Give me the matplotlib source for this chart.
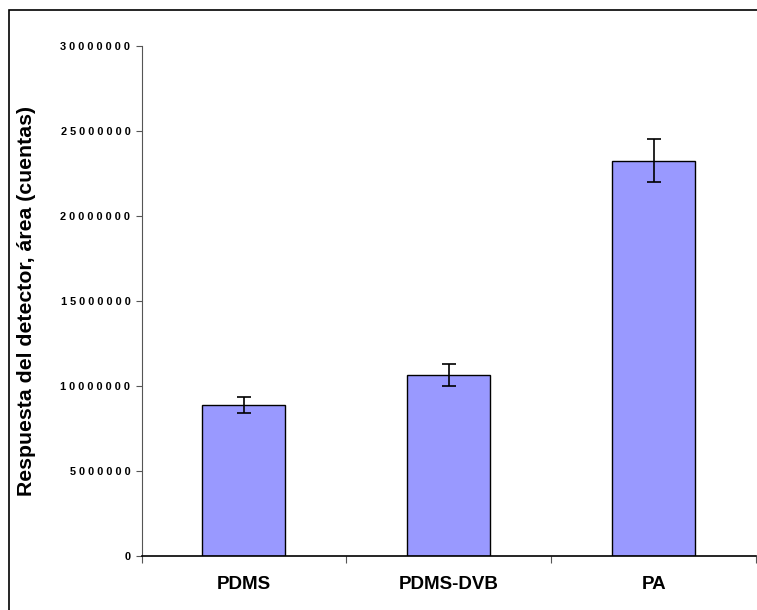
import matplotlib.pyplot as plt
from matplotlib.patches import Rectangle
from matplotlib.ticker import FixedLocator, FuncFormatter

plt.rcParams['font.family'] = ['Liberation Sans', 'DejaVu Sans']

# data
categories = ['PDMS', 'PDMS-DVB', 'PA']
values = [8900000, 10650000, 23250000]
errors = [470000, 650000, 1250000]
yticks = [0, 5000000, 10000000, 15000000, 20000000, 25000000, 30000000]

W, H = 757, 610
fig = plt.figure(figsize=(W / 100, H / 100), dpi=100)

# outer frame (only left and top visible in the original)
fig.patches.append(Rectangle((8.5 / W, -1.0), 3.0, 1.0 + (H - 9.5) / H,
                             transform=fig.transFigure, fill=False,
                             edgecolor='black', linewidth=1.2))

ax = fig.add_axes([141.5 / W, (H - 556.2) / H, (756 - 141.5) / W, (556.2 - 45.9) / H])

x = range(len(categories))
ax.bar(x, values, width=0.405, color='#9999FF', edgecolor='black', linewidth=1.0,
       yerr=errors, capsize=5,
       error_kw=dict(ecolor='black', elinewidth=1.2, capthick=1.2))

ax.set_xlim(-0.5, 2.5)
ax.set_ylim(0, 30000000)

for s in ['top', 'right']:
    ax.spines[s].set_visible(False)
ax.spines['left'].set_color('#555555')
ax.spines['bottom'].set_color('black')
ax.spines['bottom'].set_linewidth(1.2)

ax.set_yticks(yticks)
ax.yaxis.set_major_formatter(FuncFormatter(lambda v, p: ' '.join(f'{v:.0f}')))
ax.tick_params(axis='y', direction='out', length=4, width=0.8, color='#555555',
               labelsize=7.9, pad=4)
for lbl in ax.get_yticklabels():
    lbl.set_fontweight('bold')

ax.set_xticks(list(x))
ax.set_xticklabels(categories, fontsize=13.5, fontweight='bold')
ax.tick_params(axis='x', which='major', length=0, pad=14)
ax.xaxis.set_minor_locator(FixedLocator([-0.5, 0.5, 1.5, 2.5]))
ax.tick_params(axis='x', which='minor', direction='out', length=5, width=0.8, color='#555555')

ax.set_ylabel('Respuesta del detector, área (cuentas)', fontsize=15.3,
              fontweight='bold')
ax.yaxis.set_label_coords(-0.172, 0.5)

fig.savefig('out.png', dpi=100)
